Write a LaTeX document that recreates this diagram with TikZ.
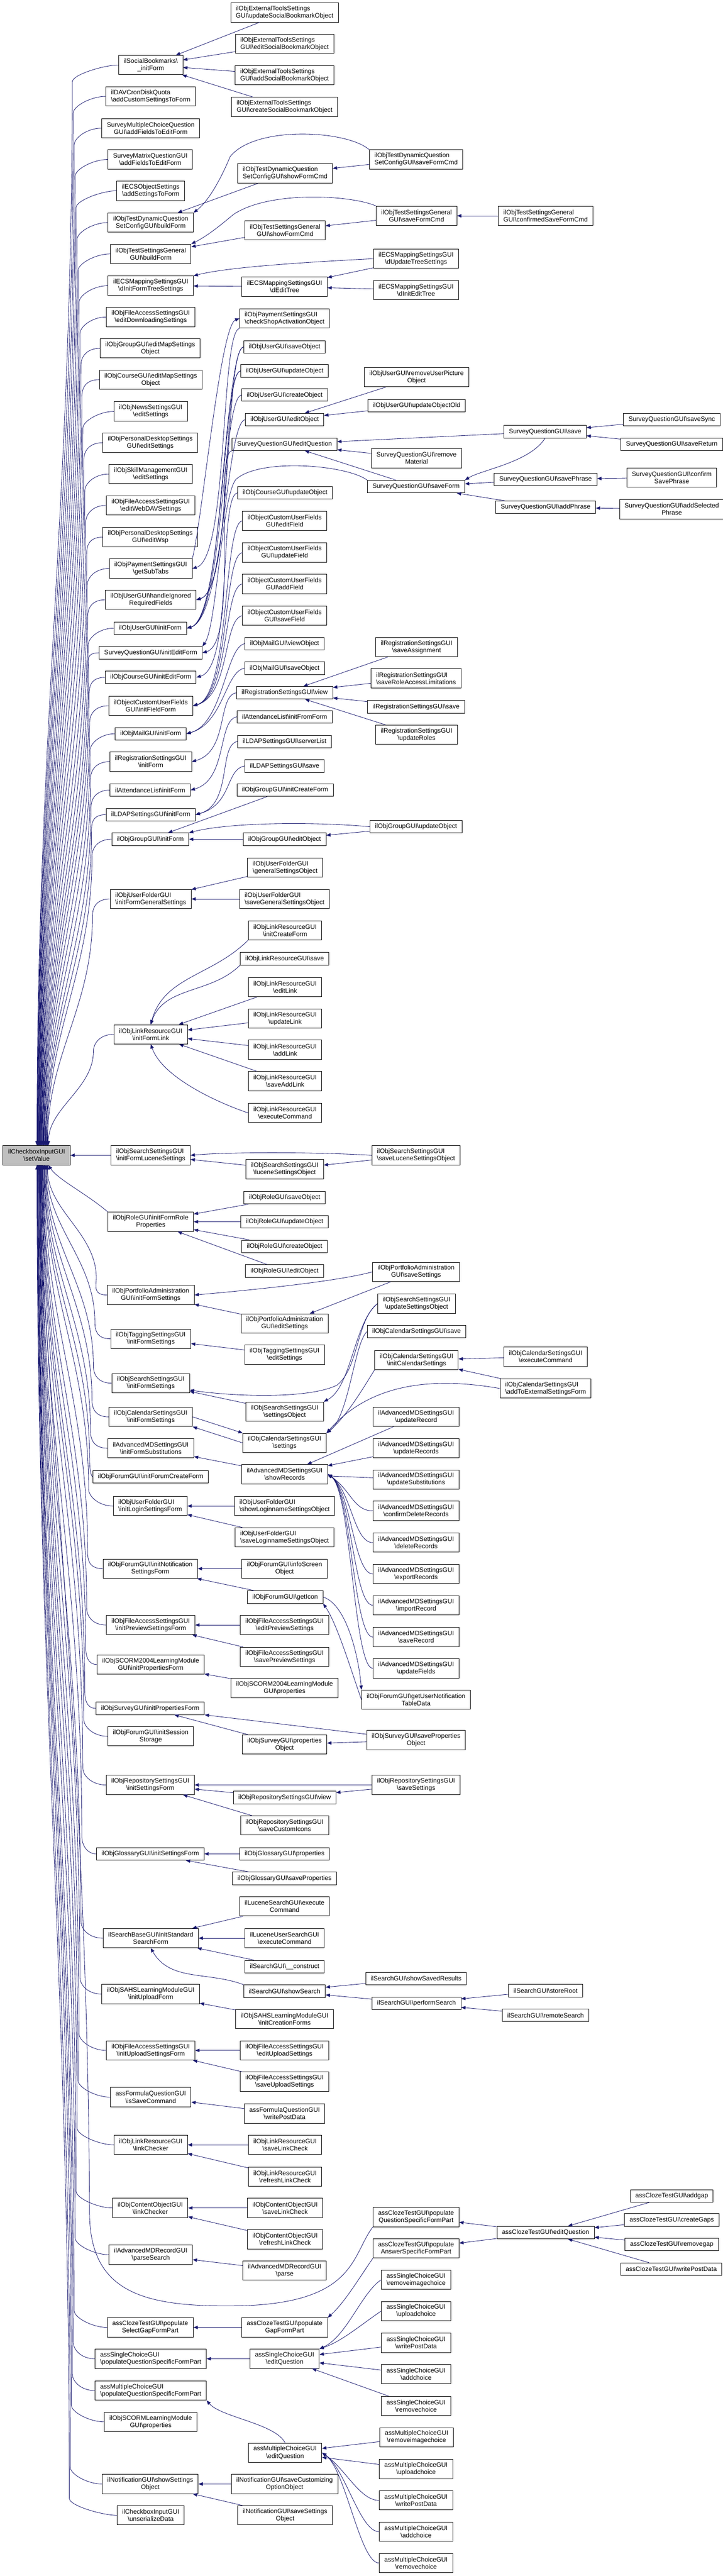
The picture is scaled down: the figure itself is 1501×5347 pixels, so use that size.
\documentclass[tikz,border=0pt]{standalone}
\usepackage{fontspec}
\setmainfont{Liberation Sans}
\usetikzlibrary{arrows.meta}
\newcommand{\bsl}{\textbackslash}
\definecolor{edgeblue}{HTML}{191970}
\definecolor{rootgray}{HTML}{BFBFBF}
\begin{document}
\begin{tikzpicture}[x=0.5pt, y=0.5pt,
    fnbox/.style={draw=black, line width=0.5pt, fill=white, inner xsep=5.25pt, inner ysep=1pt,
      minimum height=13pt, align=center, font=\fontsize{6.65}{7.5}\selectfont},
    fnbox2/.style={fnbox, minimum height=20pt},
    fnleft/.style={fnbox2, align=left},
    fnroot/.style={fnbox2, fill=rootgray},
    callarrow/.style={draw=edgeblue, line width=0.45pt, -{Triangle[length=4.5pt,width=3.5pt]}},
    channel/.style={out=190, in=15, out max distance=20pt, in max distance=40pt},
    riseto/.style={out=180, in=-35, out max distance=20pt, in max distance=30pt}]
  \path[fill=white, use as bounding box] (0,0) rectangle (1501,-5347);

  \node[fnleft] (etUpdate) at (591,-26) {ilObjExternalToolsSettings\\GUI\bsl updateSocialBookmarkObject};
  \node[fnleft] (etEdit) at (591,-91) {ilObjExternalToolsSettings\\GUI\bsl editSocialBookmarkObject};
  \node[fnleft] (etAdd) at (591,-156) {ilObjExternalToolsSettings\\GUI\bsl addSocialBookmarkObject};
  \node[fnleft] (etCreate) at (591,-222) {ilObjExternalToolsSettings\\GUI\bsl createSocialBookmarkObject};
  \node[fnbox2] (sbInit) at (313,-135) {ilSocialBookmarks\bsl\\\_initForm};
  \node[fnleft] (davQuota) at (313,-200) {ilDAVCronDiskQuota\\\bsl addCustomSettingsToForm};
  \node[fnbox2] (smcAdd) at (313,-266) {SurveyMultipleChoiceQuestion\\GUI\bsl addFieldsToEditForm};
  \node[fnbox2] (smxAdd) at (312,-331) {SurveyMatrixQuestionGUI\\\bsl addFieldsToEditForm};
  \node[fnbox2] (ecsAdd) at (313,-396) {ilECSObjectSettings\\\bsl addSettingsToForm};
  \node[fnleft] (dqSave) at (864,-331) {ilObjTestDynamicQuestion\\SetConfigGUI\bsl saveFormCmd};
  \node[fnleft] (dqShow) at (592,-360) {ilObjTestDynamicQuestion\\SetConfigGUI\bsl showFormCmd};
  \node[fnbox2] (dqBuild) at (313,-462) {ilObjTestDynamicQuestion\\SetConfigGUI\bsl buildForm};
  \node[fnbox2] (tsSave) at (865,-448) {ilObjTestSettingsGeneral\\GUI\bsl saveFormCmd};
  \node[fnleft] (tsConfirm) at (1133,-448) {ilObjTestSettingsGeneral\\GUI\bsl confirmedSaveFormCmd};
  \node[fnbox2] (tsShow) at (592,-478) {ilObjTestSettingsGeneral\\GUI\bsl showFormCmd};
  \node[fnbox2] (tsBuild) at (313,-527) {ilObjTestSettingsGeneral\\GUI\bsl buildForm};
  \node[fnbox2] (ecsUpdate) at (864,-537) {ilECSMappingSettingsGUI\\\bsl dUpdateTreeSettings};
  \node[fnbox2] (ecsInitForm) at (313,-593) {ilECSMappingSettingsGUI\\\bsl dInitFormTreeSettings};
  \node[fnbox2] (ecsEdit) at (591,-595) {ilECSMappingSettingsGUI\\\bsl dEditTree};
  \node[fnbox2] (ecsInitEdit) at (864,-602) {ilECSMappingSettingsGUI\\\bsl dInitEditTree};
  \node[fnbox2] (faDownload) at (313,-658) {ilObjFileAccessSettingsGUI\\\bsl editDownloadingSettings};
  \node[fnleft] (payCheck) at (591,-661) {ilObjPaymentSettingsGUI\\\bsl checkShopActivationObject};
  \node[fnbox2] (grpMap) at (312,-723) {ilObjGroupGUI\bsl editMapSettings\\Object};
  \node[fnbox] (usrSave) at (591,-720) {ilObjUserGUI\bsl saveObject};
  \node[fnbox] (usrUpdate) at (591,-770) {ilObjUserGUI\bsl updateObject};
  \node[fnbox2] (crsMap) at (313,-788) {ilObjCourseGUI\bsl editMapSettings\\Object};
  \node[fnbox2] (usrRemovePic) at (865,-783) {ilObjUserGUI\bsl removeUserPicture\\Object};
  \node[fnbox] (usrCreate) at (591,-820) {ilObjUserGUI\bsl createObject};
  \node[fnbox2] (newsEdit) at (313,-854) {ilObjNewsSettingsGUI\\\bsl editSettings};
  \node[fnbox] (usrUpdateOld) at (865,-842) {ilObjUserGUI\bsl updateObjectOld};
  \node[fnbox] (usrEdit) at (591,-871) {ilObjUserGUI\bsl editObject};
  \node[fnbox] (sqSaveSync) at (1395,-871) {SurveyQuestionGUI\bsl saveSync};
  \node[fnbox] (sqSave) at (1132,-896) {SurveyQuestionGUI\bsl save};
  \node[fnbox2] (pdEdit) at (312,-919) {ilObjPersonalDesktopSettings\\GUI\bsl editSettings};
  \node[fnbox] (sqEditQ) at (591,-922) {SurveyQuestionGUI\bsl editQuestion};
  \node[fnbox] (sqSaveReturn) at (1395,-922) {SurveyQuestionGUI\bsl saveReturn};
  \node[fnbox2] (sqRemoveMat) at (865,-951) {SurveyQuestionGUI\bsl remove\\Material};
  \node[fnbox2] (skillEdit) at (313,-984) {ilObjSkillManagementGUI\\\bsl editSettings};
  \node[fnbox2] (sqConfirmPhrase) at (1395,-991) {SurveyQuestionGUI\bsl confirm\\SavePhrase};
  \node[fnbox] (sqSavePhrase) at (1133,-995) {SurveyQuestionGUI\bsl savePhrase};
  \node[fnbox] (sqSaveForm) at (864,-1010) {SurveyQuestionGUI\bsl saveForm};
  \node[fnbox] (crsUpdate) at (592,-1023) {ilObjCourseGUI\bsl updateObject};
  \node[fnbox2] (faWebdav) at (313,-1049) {ilObjFileAccessSettingsGUI\\\bsl editWebDAVSettings};
  \node[fnbox] (sqAddPhrase) at (1133,-1053) {SurveyQuestionGUI\bsl addPhrase};
  \node[fnbox2] (sqAddSelected) at (1395,-1057) {SurveyQuestionGUI\bsl addSelected\\Phrase};
  \node[fnbox2] (cufEdit) at (591,-1081) {ilObjectCustomUserFields\\GUI\bsl editField};
  \node[fnbox2] (pdWsp) at (312,-1115) {ilObjPersonalDesktopSettings\\GUI\bsl editWsp};
  \node[fnbox2] (cufUpdate) at (591,-1147) {ilObjectCustomUserFields\\GUI\bsl updateField};
  \node[fnbox2] (paySubTabs) at (313,-1180) {ilObjPaymentSettingsGUI\\\bsl getSubTabs};
  \node[fnbox2] (cufAdd) at (591,-1212) {ilObjectCustomUserFields\\GUI\bsl addField};
  \node[fnbox2] (usrIgnored) at (313,-1245) {ilObjUserGUI\bsl handleIgnored\\RequiredFields};
  \node[fnbox2] (cufSave) at (591,-1278) {ilObjectCustomUserFields\\GUI\bsl saveField};
  \node[fnbox] (usrInit) at (312,-1304) {ilObjUserGUI\bsl initForm};
  \node[fnbox] (mailView) at (591,-1336) {ilObjMailGUI\bsl viewObject};
  \node[fnbox2] (regAssign) at (865,-1343) {ilRegistrationSettingsGUI\\\bsl saveAssignment};
  \node[fnbox] (sqInitEdit) at (313,-1355) {SurveyQuestionGUI\bsl initEditForm};
  \node[fnbox] (mailSave) at (591,-1387) {ilObjMailGUI\bsl saveObject};
  \node[fnbox] (crsInitEdit) at (313,-1406) {ilObjCourseGUI\bsl initEditForm};
  \node[fnleft] (regRoleAccess) at (864,-1408) {ilRegistrationSettingsGUI\\\bsl saveRoleAccessLimitations};
  \node[fnbox] (regView) at (591,-1438) {ilRegistrationSettingsGUI\bsl view};
  \node[fnbox2] (cufInit) at (313,-1465) {ilObjectCustomUserFields\\GUI\bsl initFieldForm};
  \node[fnbox] (regSave) at (864,-1467) {ilRegistrationSettingsGUI\bsl save};
  \node[fnbox] (attInitFrom) at (591,-1488) {ilAttendanceList\bsl initFromForm};
  \node[fnbox] (mailInit) at (313,-1523) {ilObjMailGUI\bsl initForm};
  \node[fnbox2] (regRoles) at (865,-1525) {ilRegistrationSettingsGUI\\\bsl updateRoles};
  \node[fnbox] (ldapList) at (591,-1539) {ilLDAPSettingsGUI\bsl serverList};
  \node[fnbox2] (regInit) at (313,-1581) {ilRegistrationSettingsGUI\\\bsl initForm};
  \node[fnbox] (ldapSave) at (591,-1590) {ilLDAPSettingsGUI\bsl save};
  \node[fnbox] (attInit) at (312,-1640) {ilAttendanceList\bsl initForm};
  \node[fnbox] (grpInitCreate) at (592,-1640) {ilObjGroupGUI\bsl initCreateForm};
  \node[fnbox] (ldapInit) at (313,-1691) {ilLDAPSettingsGUI\bsl initForm};
  \node[fnbox] (grpUpdate) at (864,-1716) {ilObjGroupGUI\bsl updateObject};
  \node[fnbox] (grpInit) at (312,-1742) {ilObjGroupGUI\bsl initForm};
  \node[fnbox] (grpEdit) at (591,-1742) {ilObjGroupGUI\bsl editObject};
  \node[fnleft] (ufGeneral) at (592,-1801) {ilObjUserFolderGUI\\\bsl generalSettingsObject};
  \node[fnleft] (ufInitGeneral) at (313,-1866) {ilObjUserFolderGUI\\\bsl initFormGeneralSettings};
  \node[fnleft] (ufSaveGeneral) at (591,-1866) {ilObjUserFolderGUI\\\bsl saveGeneralSettingsObject};
  \node[fnbox2] (lrCreate) at (592,-1931) {ilObjLinkResourceGUI\\\bsl initCreateForm};
  \node[fnbox] (lrSave) at (591,-1990) {ilObjLinkResourceGUI\bsl save};
  \node[fnbox2] (lrEdit) at (592,-2049) {ilObjLinkResourceGUI\\\bsl editLink};
  \node[fnbox2] (lrUpdate) at (592,-2114) {ilObjLinkResourceGUI\\\bsl updateLink};
  \node[fnbox2] (lrInit) at (313,-2147) {ilObjLinkResourceGUI\\\bsl initFormLink};
  \node[fnbox2] (lrAdd) at (592,-2179) {ilObjLinkResourceGUI\\\bsl addLink};
  \node[fnbox2] (lrSaveAdd) at (592,-2244) {ilObjLinkResourceGUI\\\bsl saveAddLink};
  \node[fnbox2] (lrExec) at (592,-2310) {ilObjLinkResourceGUI\\\bsl executeCommand};
  \node[fnroot] (setValue) at (76,-2398) {ilCheckboxInputGUI\\\bsl setValue};
  \node[fnleft] (ssInitLucene) at (313,-2398) {ilObjSearchSettingsGUI\\\bsl initFormLuceneSettings};
  \node[fnleft] (ssSaveLucene) at (864,-2398) {ilObjSearchSettingsGUI\\\bsl saveLuceneSettingsObject};
  \node[fnbox2] (ssLucene) at (591,-2427) {ilObjSearchSettingsGUI\\\bsl luceneSettingsObject};
  \node[fnbox] (roleSave) at (591,-2486) {ilObjRoleGUI\bsl saveObject};
  \node[fnbox2] (roleInit) at (313,-2536) {ilObjRoleGUI\bsl initFormRole\\Properties};
  \node[fnbox] (roleUpdate) at (591,-2536) {ilObjRoleGUI\bsl updateObject};
  \node[fnbox] (roleCreate) at (591,-2587) {ilObjRoleGUI\bsl createObject};
  \node[fnbox] (roleEdit) at (591,-2638) {ilObjRoleGUI\bsl editObject};
  \node[fnbox2] (prtSave) at (864,-2640) {ilObjPortfolioAdministration\\GUI\bsl saveSettings};
  \node[fnbox2] (prtInit) at (313,-2688) {ilObjPortfolioAdministration\\GUI\bsl initFormSettings};
  \node[fnbox2] (ssUpdate) at (865,-2706) {ilObjSearchSettingsGUI\\\bsl updateSettingsObject};
  \node[fnbox2] (prtEdit) at (591,-2747) {ilObjPortfolioAdministration\\GUI\bsl editSettings};
  \node[fnbox] (calSave) at (865,-2764) {ilObjCalendarSettingsGUI\bsl save};
  \node[fnbox2] (tagInit) at (313,-2779) {ilObjTaggingSettingsGUI\\\bsl initFormSettings};
  \node[fnbox2] (tagEdit) at (591,-2812) {ilObjTaggingSettingsGUI\\\bsl editSettings};
  \node[fnbox2] (calExec) at (1133,-2816) {ilObjCalendarSettingsGUI\\\bsl executeCommand};
  \node[fnbox2] (calInitCal) at (865,-2823) {ilObjCalendarSettingsGUI\\\bsl initCalendarSettings};
  \node[fnbox2] (ssInit) at (313,-2871) {ilObjSearchSettingsGUI\\\bsl initFormSettings};
  \node[fnleft] (calExternal) at (1133,-2882) {ilObjCalendarSettingsGUI\\\bsl addToExternalSettingsForm};
  \node[fnbox2] (ssSettings) at (591,-2930) {ilObjSearchSettingsGUI\\\bsl settingsObject};
  \node[fnbox2] (calInit) at (313,-2941) {ilObjCalendarSettingsGUI\\\bsl initFormSettings};
  \node[fnbox2] (amdUpdateRec) at (864,-2941) {ilAdvancedMDSettingsGUI\\\bsl updateRecord};
  \node[fnbox2] (calSettings) at (591,-2995) {ilObjCalendarSettingsGUI\\\bsl settings};
  \node[fnbox2] (amdInitSubst) at (313,-3006) {ilAdvancedMDSettingsGUI\\\bsl initFormSubstitutions};
  \node[fnbox2] (amdUpdateRecs) at (864,-3006) {ilAdvancedMDSettingsGUI\\\bsl updateRecords};
  \node[fnbox2] (amdShow) at (591,-3060) {ilAdvancedMDSettingsGUI\\\bsl showRecords};
  \node[fnbox] (frmCreate) at (313,-3065) {ilObjForumGUI\bsl initForumCreateForm};
  \node[fnbox2] (amdUpdateSubst) at (864,-3071) {ilAdvancedMDSettingsGUI\\\bsl updateSubstitutions};
  \node[fnleft] (ufInitLogin) at (312,-3126) {ilObjUserFolderGUI\\\bsl initLoginSettingsForm};
  \node[fnleft] (ufShowLogin) at (591,-3126) {ilObjUserFolderGUI\\\bsl showLoginnameSettingsObject};
  \node[fnbox2] (amdConfirmDel) at (864,-3136) {ilAdvancedMDSettingsGUI\\\bsl confirmDeleteRecords};
  \node[fnleft] (ufSaveLogin) at (591,-3191) {ilObjUserFolderGUI\\\bsl saveLoginnameSettingsObject};
  \node[fnbox2] (amdDelete) at (864,-3202) {ilAdvancedMDSettingsGUI\\\bsl deleteRecords};
  \node[fnbox2] (frmInitNotif) at (312,-3256) {ilObjForumGUI\bsl initNotification\\SettingsForm};
  \node[fnbox2] (frmInfo) at (591,-3256) {ilObjForumGUI\bsl infoScreen\\Object};
  \node[fnbox2] (amdExport) at (864,-3267) {ilAdvancedMDSettingsGUI\\\bsl exportRecords};
  \node[fnbox] (frmIcon) at (592,-3315) {ilObjForumGUI\bsl getIcon};
  \node[fnbox2] (amdImport) at (864,-3332) {ilAdvancedMDSettingsGUI\\\bsl importRecord};
  \node[fnbox2] (faInitPreview) at (313,-3373) {ilObjFileAccessSettingsGUI\\\bsl initPreviewSettingsForm};
  \node[fnbox2] (faEditPreview) at (591,-3373) {ilObjFileAccessSettingsGUI\\\bsl editPreviewSettings};
  \node[fnbox2] (amdSaveRec) at (864,-3398) {ilAdvancedMDSettingsGUI\\\bsl saveRecord};
  \node[fnbox2] (faSavePreview) at (591,-3439) {ilObjFileAccessSettingsGUI\\\bsl savePreviewSettings};
  \node[fnbox2] (s2004Init) at (313,-3455) {ilObjSCORM2004LearningModule\\GUI\bsl initPropertiesForm};
  \node[fnbox2] (amdFields) at (864,-3463) {ilAdvancedMDSettingsGUI\\\bsl updateFields};
  \node[fnbox2] (s2004Props) at (591,-3504) {ilObjSCORM2004LearningModule\\GUI\bsl properties};
  \node[fnbox2] (frmNotifTable) at (864,-3528) {ilObjForumGUI\bsl getUserNotification\\TableData};
  \node[fnbox] (svyInitProps) at (312,-3546) {ilObjSurveyGUI\bsl initPropertiesForm};
  \node[fnbox2] (frmSession) at (313,-3604) {ilObjForumGUI\bsl initSession\\Storage};
  \node[fnbox2] (svySaveProps) at (864,-3612) {ilObjSurveyGUI\bsl saveProperties\\Object};
  \node[fnbox2] (svyProps) at (591,-3621) {ilObjSurveyGUI\bsl properties\\Object};
  \node[fnbox2] (repInit) at (312,-3705) {ilObjRepositorySettingsGUI\\\bsl initSettingsForm};
  \node[fnbox2] (repSave) at (864,-3705) {ilObjRepositorySettingsGUI\\\bsl saveSettings};
  \node[fnbox] (repView) at (591,-3731) {ilObjRepositorySettingsGUI\bsl view};
  \node[fnbox2] (repIcons) at (591,-3789) {ilObjRepositorySettingsGUI\\\bsl saveCustomIcons};
  \node[fnbox] (gloInit) at (312,-3848) {ilObjGlossaryGUI\bsl initSettingsForm};
  \node[fnbox] (gloProps) at (591,-3848) {ilObjGlossaryGUI\bsl properties};
  \node[fnbox] (gloSaveProps) at (591,-3899) {ilObjGlossaryGUI\bsl saveProperties};
  \node[fnbox2] (lsExec) at (591,-3957) {ilLuceneSearchGUI\bsl execute\\Command};
  \node[fnbox2] (sbStd) at (313,-4023) {ilSearchBaseGUI\bsl initStandard\\SearchForm};
  \node[fnbox2] (lusExec) at (591,-4023) {ilLuceneUserSearchGUI\\\bsl executeCommand};
  \node[fnbox] (srConstruct) at (591,-4082) {ilSearchGUI\bsl\_\_construct};
  \node[fnbox] (srSaved) at (864,-4107) {ilSearchGUI\bsl showSavedResults};
  \node[fnbox] (srStore) at (1133,-4132) {ilSearchGUI\bsl storeRoot};
  \node[fnbox] (srShow) at (591,-4133) {ilSearchGUI\bsl showSearch};
  \node[fnbox2] (sahsUpload) at (313,-4139) {ilObjSAHSLearningModuleGUI\\\bsl initUploadForm};
  \node[fnbox] (srPerform) at (865,-4158) {ilSearchGUI\bsl performSearch};
  \node[fnbox] (srRemote) at (1133,-4183) {ilSearchGUI\bsl remoteSearch};
  \node[fnbox2] (sahsCreation) at (591,-4191) {ilObjSAHSLearningModuleGUI\\\bsl initCreationForms};
  \node[fnbox2] (faInitUpload) at (313,-4256) {ilObjFileAccessSettingsGUI\\\bsl initUploadSettingsForm};
  \node[fnbox2] (faEditUpload) at (591,-4256) {ilObjFileAccessSettingsGUI\\\bsl editUploadSettings};
  \node[fnbox2] (faSaveUpload) at (591,-4321) {ilObjFileAccessSettingsGUI\\\bsl saveUploadSettings};
  \node[fnbox2] (fqSaveCmd) at (313,-4353) {assFormulaQuestionGUI\\\bsl isSaveCommand};
  \node[fnbox2] (fqWrite) at (591,-4387) {assFormulaQuestionGUI\\\bsl writePostData};
  \node[fnbox2] (lrChecker) at (313,-4452) {ilObjLinkResourceGUI\\\bsl linkChecker};
  \node[fnbox2] (lrSaveCheck) at (592,-4452) {ilObjLinkResourceGUI\\\bsl saveLinkCheck};
  \node[fnbox2] (lrRefresh) at (592,-4518) {ilObjLinkResourceGUI\\\bsl refreshLinkCheck};
  \node[fnbox] (ctAddgap) at (1395,-4558) {assClozeTestGUI\bsl addgap};
  \node[fnbox2] (coChecker) at (312,-4583) {ilObjContentObjectGUI\\\bsl linkChecker};
  \node[fnbox2] (coSaveCheck) at (592,-4583) {ilObjContentObjectGUI\\\bsl saveLinkCheck};
  \node[fnbox2] (ctPopQuestion) at (864,-4602) {assClozeTestGUI\bsl populate\\QuestionSpecificFormPart};
  \node[fnbox] (ctCreateGaps) at (1395,-4608) {assClozeTestGUI\bsl createGaps};
  \node[fnbox] (ctEdit) at (1133,-4634) {assClozeTestGUI\bsl editQuestion};
  \node[fnbox2] (coRefresh) at (592,-4648) {ilObjContentObjectGUI\\\bsl refreshLinkCheck};
  \node[fnbox] (ctRemovegap) at (1395,-4659) {assClozeTestGUI\bsl removegap};
  \node[fnbox2] (ctPopAnswer) at (864,-4667) {assClozeTestGUI\bsl populate\\AnswerSpecificFormPart};
  \node[fnbox2] (amdParseSearch) at (313,-4680) {ilAdvancedMDRecordGUI\\\bsl parseSearch};
  \node[fnbox] (ctWrite) at (1394,-4710) {assClozeTestGUI\bsl writePostData};
  \node[fnbox2] (amdParse) at (591,-4713) {ilAdvancedMDRecordGUI\\\bsl parse};
  \node[fnbox2] (scRemoveImg) at (864,-4732) {assSingleChoiceGUI\\\bsl removeimagechoice};
  \node[fnbox2] (scUpload) at (864,-4797) {assSingleChoiceGUI\\\bsl uploadchoice};
  \node[fnbox2] (ctPopSelect) at (312,-4831) {assClozeTestGUI\bsl populate\\SelectGapFormPart};
  \node[fnbox2] (ctPopGap) at (591,-4831) {assClozeTestGUI\bsl populate\\GapFormPart};
  \node[fnbox2] (scWrite) at (864,-4863) {assSingleChoiceGUI\\\bsl writePostData};
  \node[fnleft] (scPopQuestion) at (313,-4896) {assSingleChoiceGUI\\\bsl populateQuestionSpecificFormPart};
  \node[fnbox2] (scEdit) at (591,-4896) {assSingleChoiceGUI\\\bsl editQuestion};
  \node[fnbox2] (scAdd) at (864,-4928) {assSingleChoiceGUI\\\bsl addchoice};
  \node[fnleft] (mcPopQuestion) at (313,-4962) {assMultipleChoiceGUI\\\bsl populateQuestionSpecificFormPart};
  \node[fnbox2] (scRemove) at (864,-4994) {assSingleChoiceGUI\\\bsl removechoice};
  \node[fnbox2] (scormProps) at (313,-5027) {ilObjSCORMLearningModule\\GUI\bsl properties};
  \node[fnbox2] (mcRemoveImg) at (865,-5059) {assMultipleChoiceGUI\\\bsl removeimagechoice};
  \node[fnbox2] (mcEdit) at (592,-5091) {assMultipleChoiceGUI\\\bsl editQuestion};
  \node[fnbox2] (mcUpload) at (864,-5125) {assMultipleChoiceGUI\\\bsl uploadchoice};
  \node[fnbox2] (ntfShow) at (312,-5156) {ilNotificationGUI\bsl showSettings\\Object};
  \node[fnbox2] (ntfSaveCustom) at (591,-5156) {ilNotificationGUI\bsl saveCustomizing\\OptionObject};
  \node[fnbox2] (mcWrite) at (864,-5190) {assMultipleChoiceGUI\\\bsl writePostData};
  \node[fnbox2] (cbUnserialize) at (313,-5221) {ilCheckboxInputGUI\\\bsl unserializeData};
  \node[fnbox2] (ntfSave) at (592,-5221) {ilNotificationGUI\bsl saveSettings\\Object};
  \node[fnbox2] (mcAdd) at (864,-5255) {assMultipleChoiceGUI\\\bsl addchoice};
  \node[fnbox2] (mcRemove) at (864,-5320) {assMultipleChoiceGUI\\\bsl removechoice};

  \draw[callarrow] (sbInit.west) .. controls +(-30,0) and +(0,15) .. (150,-170) .. controls +(0,-883) and +(0,883) .. (setValue.88);
  \draw[callarrow] (davQuota.west) .. controls +(-30,0) and +(0,15) .. (152,-235) .. controls +(0,-857) and +(0,857) .. (setValue.86);
  \draw[callarrow] (smcAdd.west) .. controls +(-30,0) and +(0,15) .. (154,-301) .. controls +(0,-831) and +(0,831) .. (setValue.84);
  \draw[callarrow] (smxAdd.west) .. controls +(-30,0) and +(0,15) .. (156,-366) .. controls +(0,-805) and +(0,805) .. (setValue.83);
  \draw[callarrow] (ecsAdd.west) .. controls +(-30,0) and +(0,15) .. (158,-431) .. controls +(0,-779) and +(0,779) .. (setValue.81);
  \draw[callarrow] (dqBuild.west) .. controls +(-30,0) and +(0,15) .. (160,-497) .. controls +(0,-752) and +(0,752) .. (setValue.79);
  \draw[callarrow] (tsBuild.west) .. controls +(-30,0) and +(0,15) .. (162,-562) .. controls +(0,-726) and +(0,726) .. (setValue.77);
  \draw[callarrow] (ecsInitForm.west) .. controls +(-30,0) and +(0,15) .. (164,-628) .. controls +(0,-700) and +(0,700) .. (setValue.76);
  \draw[callarrow] (faDownload.west) .. controls +(-30,0) and +(0,15) .. (166,-693) .. controls +(0,-674) and +(0,674) .. (setValue.74);
  \draw[callarrow] (grpMap.west) .. controls +(-30,0) and +(0,15) .. (168,-758) .. controls +(0,-648) and +(0,648) .. (setValue.72);
  \draw[callarrow] (crsMap.west) .. controls +(-30,0) and +(0,15) .. (170,-823) .. controls +(0,-622) and +(0,622) .. (setValue.70);
  \draw[callarrow] (newsEdit.west) .. controls +(-30,0) and +(0,15) .. (172,-889) .. controls +(0,-596) and +(0,596) .. (setValue.69);
  \draw[callarrow] (pdEdit.west) .. controls +(-30,0) and +(0,15) .. (174,-954) .. controls +(0,-570) and +(0,570) .. (setValue.67);
  \draw[callarrow] (skillEdit.west) .. controls +(-30,0) and +(0,15) .. (176,-1019) .. controls +(0,-544) and +(0,544) .. (setValue.65);
  \draw[callarrow] (faWebdav.west) .. controls +(-30,0) and +(0,15) .. (178,-1084) .. controls +(0,-518) and +(0,518) .. (setValue.64);
  \draw[callarrow] (pdWsp.west) .. controls +(-30,0) and +(0,15) .. (180,-1150) .. controls +(0,-491) and +(0,491) .. (setValue.62);
  \draw[callarrow] (paySubTabs.west) .. controls +(-30,0) and +(0,15) .. (181,-1215) .. controls +(0,-465) and +(0,465) .. (setValue.60);
  \draw[callarrow] (usrIgnored.west) .. controls +(-30,0) and +(0,15) .. (182,-1280) .. controls +(0,-439) and +(0,439) .. (setValue.58);
  \draw[callarrow] (usrInit.west) .. controls +(-30,0) and +(0,15) .. (183,-1339) .. controls +(0,-416) and +(0,416) .. (setValue.57);
  \draw[callarrow] (sqInitEdit.west) .. controls +(-30,0) and +(0,15) .. (184,-1390) .. controls +(0,-395) and +(0,395) .. (setValue.55);
  \draw[callarrow] (crsInitEdit.west) .. controls +(-30,0) and +(0,15) .. (185,-1441) .. controls +(0,-375) and +(0,375) .. (setValue.53);
  \draw[callarrow] (cufInit.west) .. controls +(-30,0) and +(0,15) .. (186,-1500) .. controls +(0,-351) and +(0,351) .. (setValue.52);
  \draw[callarrow] (mailInit.west) .. controls +(-30,0) and +(0,15) .. (187,-1558) .. controls +(0,-328) and +(0,328) .. (setValue.50);
  \draw[callarrow] (regInit.west) .. controls +(-30,0) and +(0,15) .. (188,-1616) .. controls +(0,-305) and +(0,305) .. (setValue.48);
  \draw[callarrow] (attInit.west) .. controls +(-30,0) and +(0,15) .. (189,-1675) .. controls +(0,-281) and +(0,281) .. (setValue.46);
  \draw[callarrow] (ldapInit.west) .. controls +(-30,0) and +(0,15) .. (190,-1726) .. controls +(0,-261) and +(0,261) .. (setValue.45);
  \draw[callarrow] (grpInit.west) .. controls +(-30,0) and +(0,15) .. (191,-1777) .. controls +(0,-240) and +(0,240) .. (setValue.43);
  \draw[callarrow] (ufInitGeneral.west) .. controls +(-30,0) and +(0,15) .. (192,-1901) .. controls +(0,-191) and +(0,191) .. (setValue.42);
  \draw[callarrow] (lrInit.west) .. controls +(-30,0) and +(0,15) .. (194,-2182) .. controls +(0,-78) and +(0,78) .. (setValue.40);
  \draw[callarrow] (ssInitLucene) -- (setValue);
  \draw[callarrow] (roleInit.north west) .. controls +(-40,35) and +(20,-30) .. (setValue.-40);
  \draw[callarrow] (prtInit.west) .. controls +(-30,0) and +(0,-15) .. (200,-2653) .. controls +(0,94) and +(0,-94) .. (setValue.-42);
  \draw[callarrow] (tagInit.west) .. controls +(-30,0) and +(0,-15) .. (197,-2744) .. controls +(0,130) and +(0,-130) .. (setValue.-44);
  \draw[callarrow] (ssInit.west) .. controls +(-30,0) and +(0,-15) .. (194,-2836) .. controls +(0,167) and +(0,-167) .. (setValue.-46);
  \draw[callarrow] (calInit.west) .. controls +(-30,0) and +(0,-15) .. (191,-2906) .. controls +(0,195) and +(0,-195) .. (setValue.-47);
  \draw[callarrow] (amdInitSubst.west) .. controls +(-30,0) and +(0,-15) .. (188,-2971) .. controls +(0,221) and +(0,-221) .. (setValue.-49);
  \draw[callarrow] (frmCreate.west) .. controls +(-5,0) and +(0,-10) .. (186,-3030) .. controls +(0,245) and +(0,-245) .. (setValue.-51);
  \draw[callarrow] (ufInitLogin.west) .. controls +(-30,0) and +(0,-15) .. (184,-3091) .. controls +(0,269) and +(0,-269) .. (setValue.-52);
  \draw[callarrow] (frmInitNotif.west) .. controls +(-30,0) and +(0,-15) .. (182,-3221) .. controls +(0,321) and +(0,-321) .. (setValue.-54);
  \draw[callarrow] (faInitPreview.west) .. controls +(-30,0) and +(0,-15) .. (180,-3338) .. controls +(0,368) and +(0,-368) .. (setValue.-56);
  \draw[callarrow] (s2004Init.west) .. controls +(-20,0) and +(0,-15) .. (178,-3420) .. controls +(0,401) and +(0,-401) .. (setValue.-57);
  \draw[callarrow] (svyInitProps.west) .. controls +(-20,0) and +(0,-15) .. (176,-3511) .. controls +(0,437) and +(0,-437) .. (setValue.-59);
  \draw[callarrow] (frmSession.west) .. controls +(-30,0) and +(0,-15) .. (174,-3569) .. controls +(0,460) and +(0,-460) .. (setValue.-61);
  \draw[callarrow] (repInit.west) .. controls +(-30,0) and +(0,-15) .. (172,-3670) .. controls +(0,501) and +(0,-501) .. (setValue.-62);
  \draw[callarrow] (gloInit.west) .. controls +(-20,0) and +(0,-15) .. (170,-3813) .. controls +(0,558) and +(0,-558) .. (setValue.-64);
  \draw[callarrow] (sbStd.west) .. controls +(-30,0) and +(0,-15) .. (168,-3988) .. controls +(0,628) and +(0,-628) .. (setValue.-66);
  \draw[callarrow] (sahsUpload.west) .. controls +(-30,0) and +(0,-15) .. (166,-4104) .. controls +(0,674) and +(0,-674) .. (setValue.-67);
  \draw[callarrow] (faInitUpload.west) .. controls +(-30,0) and +(0,-15) .. (164,-4221) .. controls +(0,721) and +(0,-721) .. (setValue.-69);
  \draw[callarrow] (fqSaveCmd.west) .. controls +(-30,0) and +(0,-15) .. (162,-4318) .. controls +(0,760) and +(0,-760) .. (setValue.-71);
  \draw[callarrow] (lrChecker.west) .. controls +(-30,0) and +(0,-15) .. (160,-4417) .. controls +(0,800) and +(0,-800) .. (setValue.-72);
  \draw[callarrow] (coChecker.west) .. controls +(-30,0) and +(0,-15) .. (158,-4548) .. controls +(0,852) and +(0,-852) .. (setValue.-74);
  \draw[callarrow] (amdParseSearch.west) .. controls +(-30,0) and +(0,-15) .. (156,-4645) .. controls +(0,891) and +(0,-891) .. (setValue.-76);
  \draw[callarrow] (ctPopSelect.west) .. controls +(-30,0) and +(0,-15) .. (154,-4796) .. controls +(0,951) and +(0,-951) .. (setValue.-79);
  \draw[callarrow] (scPopQuestion.west) .. controls +(-30,0) and +(0,-15) .. (152,-4861) .. controls +(0,977) and +(0,-977) .. (setValue.-81);
  \draw[callarrow] (mcPopQuestion.west) .. controls +(-30,0) and +(0,-15) .. (150,-4927) .. controls +(0,1004) and +(0,-1004) .. (setValue.-82);
  \draw[callarrow] (scormProps.west) .. controls +(-30,0) and +(0,-15) .. (148,-4992) .. controls +(0,1030) and +(0,-1030) .. (setValue.-84);
  \draw[callarrow] (ntfShow.west) .. controls +(-30,0) and +(0,-15) .. (146,-5121) .. controls +(0,1081) and +(0,-1081) .. (setValue.-86);
  \draw[callarrow] (cbUnserialize.west) .. controls +(-30,0) and +(0,-15) .. (144,-5186) .. controls +(0,1107) and +(0,-1107) .. (setValue.-88);
  \draw[callarrow] (ctPopQuestion.south west) .. controls (730,-4680) and (740,-4780) .. (500,-4786)
    .. controls (300,-4790) and (190,-4760) .. (186,-4600)
    .. controls (182,-3600) and (84,-2800) .. (setValue.-77);

  \draw[callarrow] (etUpdate) -- (sbInit);
  \draw[callarrow] (etEdit) -- (sbInit);
  \draw[callarrow] (etAdd) -- (sbInit);
  \draw[callarrow] (etCreate) -- (sbInit);
  \draw[callarrow] (dqSave) -- (dqShow);
  \draw[callarrow] (dqShow) -- (dqBuild);
  \draw[callarrow] (dqSave.north west) .. controls (720,-270) and (530,-260) .. (478,-325)
    .. controls (455,-380) and (430,-420) .. (dqBuild.north east);
  \draw[callarrow] (tsConfirm) -- (tsSave);
  \draw[callarrow] (tsSave) -- (tsShow);
  \draw[callarrow] (tsShow) -- (tsBuild);
  \draw[callarrow] (tsSave.north west) .. controls (730,-405) and (560,-395) .. (485,-445)
    .. controls (455,-470) and (430,-490) .. (tsBuild.north east);
  \draw[callarrow] (ecsUpdate.west) .. controls (620,-545) and (470,-555) .. (ecsInitForm.north east);
  \draw[callarrow] (ecsUpdate) -- (ecsEdit);
  \draw[callarrow] (ecsInitEdit) -- (ecsEdit);
  \draw[callarrow] (ecsEdit) -- (ecsInitForm);
  \draw[callarrow] (payCheck.south west) .. controls +(-40,-10) and +(75,20) .. (paySubTabs.east);
  \draw[callarrow] (paySubTabs.north east) .. controls +(20,75) and +(-40,-15) .. (payCheck.west);
  \draw[callarrow] (usrSave.west) .. controls +(-40,-7) and +(77,21) .. (usrIgnored.east);
  \draw[callarrow] (usrUpdate.west) .. controls +(-40,-7) and +(77,21) .. (usrIgnored.east);
  \draw[callarrow] (usrSave.west) .. controls +(-40,-7) and +(77,21) .. (usrInit.east);
  \draw[callarrow] (usrUpdate.west) .. controls +(-40,-7) and +(77,21) .. (usrInit.east);
  \draw[callarrow] (usrCreate.west) .. controls +(-40,-7) and +(77,21) .. (usrInit.east);
  \draw[callarrow] (usrEdit.west) .. controls +(-40,-7) and +(77,21) .. (usrInit.east);
  \draw[callarrow] (usrRemovePic) -- (usrEdit);
  \draw[callarrow] (usrUpdateOld) -- (usrEdit);
  \draw[callarrow] (sqSaveSync) -- (sqSave);
  \draw[callarrow] (sqSaveReturn) -- (sqSave);
  \draw[callarrow] (sqSave) -- (sqEditQ);
  \draw[callarrow] (sqSave.south) .. controls (1100,-960) and (1000,-975) .. (sqSaveForm.north east);
  \draw[callarrow] (sqRemoveMat) -- (sqEditQ);
  \draw[callarrow] (sqSaveForm) -- (sqEditQ);
  \draw[callarrow] (sqSaveForm.north west) .. controls (720,-965) and (540,-950) .. (490,-995)
    .. controls (460,-1030) and (450,-1300) .. (sqInitEdit.north east);
  \draw[callarrow] (sqEditQ.south west) .. controls +(-40,-7) and +(77,21) .. (sqInitEdit.east);
  \draw[callarrow] (sqConfirmPhrase) -- (sqSavePhrase);
  \draw[callarrow] (sqSavePhrase) -- (sqSaveForm);
  \draw[callarrow] (sqAddSelected) -- (sqAddPhrase);
  \draw[callarrow] (sqAddPhrase) -- (sqSaveForm);
  \draw[callarrow] (crsUpdate.west) .. controls +(-40,-7) and +(77,21) .. (crsInitEdit.east);
  \draw[callarrow] (cufEdit.west) .. controls +(-40,-7) and +(77,21) .. (cufInit.east);
  \draw[callarrow] (cufUpdate.west) .. controls +(-40,-7) and +(77,21) .. (cufInit.east);
  \draw[callarrow] (cufAdd.west) .. controls +(-40,-7) and +(77,21) .. (cufInit.east);
  \draw[callarrow] (cufSave.west) .. controls +(-40,-7) and +(77,21) .. (cufInit.east);
  \draw[callarrow] (mailView.west) .. controls +(-40,-7) and +(77,21) .. (mailInit.east);
  \draw[callarrow] (mailSave.west) .. controls +(-40,-7) and +(77,21) .. (mailInit.east);
  \draw[callarrow] (regAssign) -- (regView);
  \draw[callarrow] (regRoleAccess) -- (regView);
  \draw[callarrow] (regSave) -- (regView);
  \draw[callarrow] (regRoles) -- (regView);
  \draw[callarrow] (regView.west) .. controls +(-40,-7) and +(77,21) .. (regInit.east);
  \draw[callarrow] (attInitFrom.west) .. controls +(-40,-7) and +(77,21) .. (attInit.east);
  \draw[callarrow] (ldapList.west) .. controls +(-40,-7) and +(77,21) .. (ldapInit.east);
  \draw[callarrow] (ldapSave.west) .. controls +(-40,-7) and +(77,21) .. (ldapInit.east);
  \draw[callarrow] (grpInitCreate) -- (grpInit);
  \draw[callarrow] (grpUpdate.west) .. controls (660,-1706) and (480,-1706) .. (grpInit.north east);
  \draw[callarrow] (grpUpdate) -- (grpEdit);
  \draw[callarrow] (grpEdit) -- (grpInit);
  \draw[callarrow] (ufGeneral) -- (ufInitGeneral);
  \draw[callarrow] (ufSaveGeneral) -- (ufInitGeneral);
  \draw[callarrow] (lrCreate.south west) .. controls +(-75,-75) and +(27,100) .. (lrInit.north);
  \draw[callarrow] (lrSave.south west) .. controls +(-60,-60) and +(27,80) .. (lrInit.north);
  \draw[callarrow] (lrEdit) -- (lrInit);
  \draw[callarrow] (lrUpdate) -- (lrInit);
  \draw[callarrow] (lrAdd) -- (lrInit);
  \draw[callarrow] (lrSaveAdd) -- (lrInit);
  \draw[callarrow] (lrExec.west) .. controls +(-60,20) and +(25,-70) .. (lrInit.south);
  \draw[callarrow] (ssSaveLucene.west) .. controls (650,-2391) and (480,-2391) .. (ssInitLucene.east);
  \draw[callarrow] (ssSaveLucene) -- (ssLucene);
  \draw[callarrow] (ssLucene) -- (ssInitLucene);
  \draw[callarrow] (roleSave) -- (roleInit);
  \draw[callarrow] (roleUpdate) -- (roleInit);
  \draw[callarrow] (roleCreate) -- (roleInit);
  \draw[callarrow] (roleEdit) -- (roleInit);
  \draw[callarrow] (prtSave.west) .. controls (700,-2660) and (520,-2678) .. (prtInit.east);
  \draw[callarrow] (prtSave) -- (prtEdit);
  \draw[callarrow] (prtEdit) -- (prtInit);
  \draw[callarrow] (ssUpdate.west) .. controls (740,-2740) and (745,-2840) .. (700,-2875)
    .. controls (640,-2905) and (480,-2898) .. (ssInit.-10);
  \draw[callarrow] (ssUpdate.west) .. controls (735,-2745) and (730,-2880) .. (ssSettings.north east);
  \draw[callarrow] (ssSettings) -- (ssInit);
  \draw[callarrow] (tagEdit) -- (tagInit);
  \draw[callarrow] (calExec) -- (calInitCal);
  \draw[callarrow] (calExternal) -- (calInitCal);
  \draw[callarrow] (calSave.west) .. controls (735,-2790) and (725,-2940) .. (calSettings.north east);
  \draw[callarrow] (calInitCal.south west) .. controls (755,-2880) and (720,-2940) .. (calSettings.north east);
  \draw[callarrow] (calExternal.west) .. controls (900,-2858) and (770,-2870) .. (calSettings.north east);
  \draw[callarrow] (calInit.east) -- (calSettings.north west);
  \draw[callarrow] (calSettings.west) -- (calInit.south east);
  \draw[callarrow] (amdUpdateRec) -- (amdShow);
  \draw[callarrow] (amdUpdateRecs) -- (amdShow);
  \draw[callarrow] (amdUpdateSubst) -- (amdShow);
  \draw[callarrow] (amdConfirmDel.west) .. controls +(-40,0) and +(49,-34) .. (amdShow.east);
  \draw[callarrow] (amdDelete.west) .. controls +(-40,0) and +(49,-34) .. (amdShow.east);
  \draw[callarrow] (amdExport.west) .. controls +(-40,0) and +(49,-34) .. (amdShow.east);
  \draw[callarrow] (amdImport.west) .. controls +(-40,0) and +(49,-34) .. (amdShow.east);
  \draw[callarrow] (amdSaveRec.west) .. controls +(-40,0) and +(49,-34) .. (amdShow.east);
  \draw[callarrow] (amdFields.west) .. controls +(-40,0) and +(49,-34) .. (amdShow.east);
  \draw[callarrow] (amdShow) -- (amdInitSubst);
  \draw[callarrow] (ufShowLogin) -- (ufInitLogin);
  \draw[callarrow] (ufSaveLogin) -- (ufInitLogin);
  \draw[callarrow] (frmInfo) -- (frmInitNotif);
  \draw[callarrow] (frmIcon) -- (frmInitNotif);
  \draw[callarrow] (frmNotifTable.west) .. controls (730,-3470) and (700,-3370) .. (frmIcon.south east);
  \draw[callarrow] (frmIcon.east) .. controls (720,-3330) and (745,-3440) .. (frmNotifTable.north west);
  \draw[callarrow] (faEditPreview) -- (faInitPreview);
  \draw[callarrow] (faSavePreview) -- (faInitPreview);
  \draw[callarrow] (s2004Props) -- (s2004Init);
  \draw[callarrow] (svyProps) -- (svyInitProps);
  \draw[callarrow] (svySaveProps) -- (svyInitProps);
  \draw[callarrow] (svySaveProps) -- (svyProps);
  \draw[callarrow] (repSave) -- (repInit);
  \draw[callarrow] (repSave) -- (repView);
  \draw[callarrow] (repView) -- (repInit);
  \draw[callarrow] (repIcons) -- (repInit);
  \draw[callarrow] (gloProps) -- (gloInit);
  \draw[callarrow] (gloSaveProps) -- (gloInit);
  \draw[callarrow] (lsExec) -- (sbStd);
  \draw[callarrow] (lusExec) -- (sbStd);
  \draw[callarrow] (srConstruct) -- (sbStd);
  \draw[callarrow] (srShow.north west) .. controls +(-75,28) and +(40,-70) .. (sbStd.south);
  \draw[callarrow] (srSaved) -- (srShow);
  \draw[callarrow] (srPerform) -- (srShow);
  \draw[callarrow] (srStore) -- (srPerform);
  \draw[callarrow] (srRemote) -- (srPerform);
  \draw[callarrow] (sahsCreation) -- (sahsUpload);
  \draw[callarrow] (faEditUpload) -- (faInitUpload);
  \draw[callarrow] (faSaveUpload) -- (faInitUpload);
  \draw[callarrow] (fqWrite) -- (fqSaveCmd);
  \draw[callarrow] (lrSaveCheck) -- (lrChecker);
  \draw[callarrow] (lrRefresh) -- (lrChecker);
  \draw[callarrow] (coSaveCheck) -- (coChecker);
  \draw[callarrow] (coRefresh) -- (coChecker);
  \draw[callarrow] (amdParse) -- (amdParseSearch);
  \draw[callarrow] (ctAddgap) -- (ctEdit);
  \draw[callarrow] (ctCreateGaps) -- (ctEdit);
  \draw[callarrow] (ctRemovegap) -- (ctEdit);
  \draw[callarrow] (ctWrite) -- (ctEdit);
  \draw[callarrow] (ctEdit) -- (ctPopQuestion);
  \draw[callarrow] (ctEdit) -- (ctPopAnswer);
  \draw[callarrow] (ctPopAnswer.south west) .. controls (745,-4730) and (715,-4780) .. (ctPopGap.north east);
  \draw[callarrow] (ctPopGap) -- (ctPopSelect);
  \draw[callarrow] (scRemoveImg.west) .. controls (750,-4760) and (720,-4850) .. (scEdit.north east);
  \draw[callarrow] (scUpload.west) .. controls (750,-4825) and (710,-4860) .. (scEdit.north east);
  \draw[callarrow] (scWrite) -- (scEdit);
  \draw[callarrow] (scAdd) -- (scEdit);
  \draw[callarrow] (scRemove) -- (scEdit);
  \draw[callarrow] (scEdit) -- (scPopQuestion);
  \draw[callarrow] (mcRemoveImg) -- (mcEdit);
  \draw[callarrow] (mcUpload) -- (mcEdit);
  \draw[callarrow] (mcWrite.west) .. controls +(-40,0) and +(49,-34) .. (mcEdit.east);
  \draw[callarrow] (mcAdd.west) .. controls +(-40,0) and +(49,-34) .. (mcEdit.east);
  \draw[callarrow] (mcRemove.west) .. controls +(-40,0) and +(49,-34) .. (mcEdit.east);
  \draw[callarrow] (mcEdit.north) .. controls +(-20,40) and +(30,-35) .. (mcPopQuestion.south east);
  \draw[callarrow] (ntfSaveCustom) -- (ntfShow);
  \draw[callarrow] (ntfSave) -- (ntfShow);
\end{tikzpicture}
\end{document}
